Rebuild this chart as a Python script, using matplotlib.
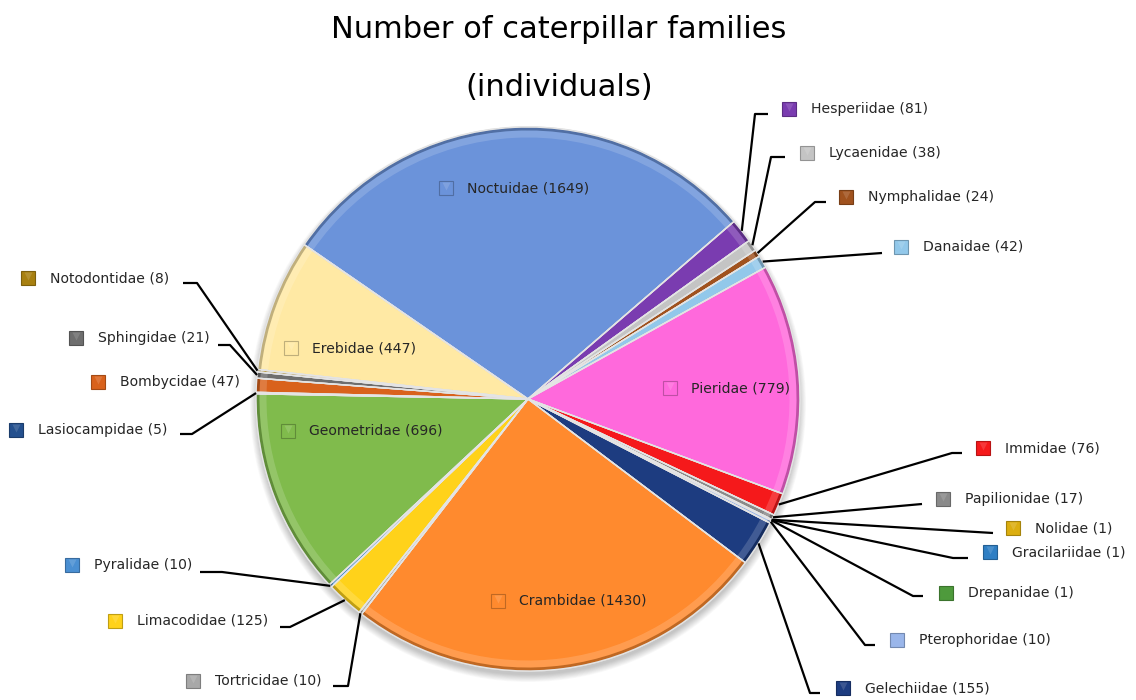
import numpy as np
import matplotlib
matplotlib.use("Agg")
import matplotlib.pyplot as plt
from matplotlib.patches import Wedge, Circle
from matplotlib.colors import to_rgb

# ---- data -------------------------------------------------------------
families = ["Noctuidae", "Hesperiidae", "Lycaenidae", "Nymphalidae", "Danaidae",
            "Pieridae", "Immidae", "Papilionidae", "Nolidae", "Gracilariidae",
            "Drepanidae", "Pterophoridae", "Gelechiidae", "Crambidae", "Tortricidae",
            "Limacodidae", "Pyralidae", "Geometridae", "Lasiocampidae", "Bombycidae",
            "Sphingidae", "Notodontidae", "Erebidae"]
counts = [1649, 81, 38, 24, 42, 779, 76, 17, 1, 1, 1, 10, 155, 1430, 10, 125, 10,
          696, 5, 47, 21, 8, 447]
colors = ["#6b93da", "#7a3cb0", "#c4c4c4", "#a0521e", "#92c8ea", "#ff69dc",
          "#f5191b", "#8a8a8a", "#dcae10", "#2f7fc4", "#4e9a3c", "#9ab6ea",
          "#1d3c80", "#ff8a2e", "#a8a8a8", "#ffd21a", "#4a8fd2", "#80bb4c",
          "#24508e", "#d9621c", "#6e6e6e", "#a88010", "#ffe9a4"]
title_lines = ["Number of caterpillar families", "(individuals)"]

# ---- layout (pixel coordinates, y measured from the top) ----------------
W, H = 1136, 700
CX, CY, R = 528, 399, 272
START = 145.4

# labels placed inside their slice: key position
inside = {
    "Noctuidae": (446, 188), "Erebidae": (291, 348), "Geometridae": (288, 431),
    "Crambidae": (498, 601), "Pieridae": (670, 388),
}
# labels outside: key position and leader path (points after the rim point)
outside = {
    "Hesperiidae":   ((789, 109), [(755, 114), (768, 114)]),
    "Lycaenidae":    ((807, 153), [(771, 157), (785, 157)]),
    "Nymphalidae":   ((846, 197), [(815, 202), (826, 202)]),
    "Danaidae":      ((901, 247), [(882, 253)]),
    "Immidae":       ((983, 448), [(952, 453), (962, 453)]),
    "Papilionidae":  ((943, 499), [(922, 504)]),
    "Nolidae":       ((1013, 528), [(993, 533)]),
    "Gracilariidae": ((990, 552), [(953, 558), (968, 558)]),
    "Drepanidae":    ((946, 593), [(913, 596), (923, 596)]),
    "Pterophoridae": ((897, 640), [(865, 645), (875, 645)]),
    "Gelechiidae":   ((843, 688), [(810, 693), (820, 693)]),
    "Tortricidae":   ((193, 681), [(348, 686), (333, 686)]),
    "Limacodidae":   ((115, 621), [(290, 627), (280, 627)]),
    "Pyralidae":     ((72, 565), [(222, 572), (200, 572)]),
    "Lasiocampidae": ((16, 430), [(192, 434), (180, 434)]),
    "Bombycidae":    ((98, 382), []),
    "Sphingidae":    ((76, 338), [(230, 345), (218, 345)]),
    "Notodontidae":  ((28, 278), [(197, 283), (183, 283)]),
}
flat_keys = {"Drepanidae", "Pterophoridae"}
TEXT = "#262626"
FS = 10.1


def fy(y):
    return H - y


def shade(c, f):
    r, g, b = to_rgb(c)
    if f >= 0:
        return (r + (1 - r) * f, g + (1 - g) * f, b + (1 - b) * f)
    return (r * (1 + f), g * (1 + f), b * (1 + f))


fig = plt.figure(figsize=(W / 100, H / 100), dpi=100)
ax = fig.add_axes([0, 0, 1, 1])

# soft drop shadow under the pie
for k in range(10):
    ax.add_patch(Circle((CX, fy(CY) - 5), R + 6 - k * 0.8, color="black",
                        alpha=0.025, lw=0, zorder=0))

wedges, _ = ax.pie(counts, colors=colors, startangle=START, counterclock=False,
                   center=(CX, fy(CY)), radius=R, frame=True,
                   wedgeprops=dict(edgecolor="#dadada", linewidth=1.0, zorder=2))

# bevel-like shading on every slice
for w, c in zip(wedges, colors):
    t1, t2 = w.theta1, w.theta2
    ax.add_patch(Wedge((CX, fy(CY)), R, t1, t2, width=3.5, color=shade(c, -0.35),
                       alpha=0.7, lw=0, zorder=3))
    ax.add_patch(Wedge((CX, fy(CY)), R - 3.5, t1, t2, width=7, color="white",
                       alpha=0.16, lw=0, zorder=3))
    ax.add_patch(Wedge((CX, fy(CY)), R, t1, t2, fill=False, edgecolor="#e4e4e4",
                       lw=1.0, zorder=4))


def key(x, y, c, flat=False):
    ax.plot([x], [fy(y)], marker="s", ms=10, mfc=c, mec=shade(c, -0.25), mew=0.8,
            ls="none", zorder=6)
    if not flat:
        ax.plot([x], [fy(y) + 2], marker="v", ms=5.5, mfc=shade(c, 0.25),
                mec="none", alpha=0.55, ls="none", zorder=7)


idx = {f: i for i, f in enumerate(families)}

for name, (kx, ky) in inside.items():
    i = idx[name]
    key(kx, ky, colors[i])
    ax.text(kx + 21, fy(ky), f"{name} ({counts[i]})", fontsize=FS, color=TEXT,
            va="center", ha="left", zorder=8)

for name, ((kx, ky), path) in outside.items():
    i = idx[name]
    w = wedges[i]
    mid = np.deg2rad((w.theta1 + w.theta2) / 2)
    px, py = CX + R * np.cos(mid), fy(CY) + R * np.sin(mid)
    if path:
        xs = [px] + [p[0] for p in path]
        ys = [py] + [fy(p[1]) for p in path]
        ax.plot(xs, ys, color="black", lw=1.6, zorder=5, solid_capstyle="butt")
    key(kx, ky, colors[i], flat=name in flat_keys)
    ax.text(kx + 22, fy(ky), f"{name} ({counts[i]})", fontsize=FS, color=TEXT,
            va="center", ha="left", zorder=8)

ax.text(559, fy(29), title_lines[0], fontsize=22, color="black", ha="center",
        va="center")
ax.text(559, fy(87), title_lines[1], fontsize=22, color="black", ha="center",
        va="center")

ax.set_xlim(0, W)
ax.set_ylim(0, H)
ax.set_aspect("equal")
ax.axis("off")
fig.savefig("out.png", dpi=100, facecolor="white")
